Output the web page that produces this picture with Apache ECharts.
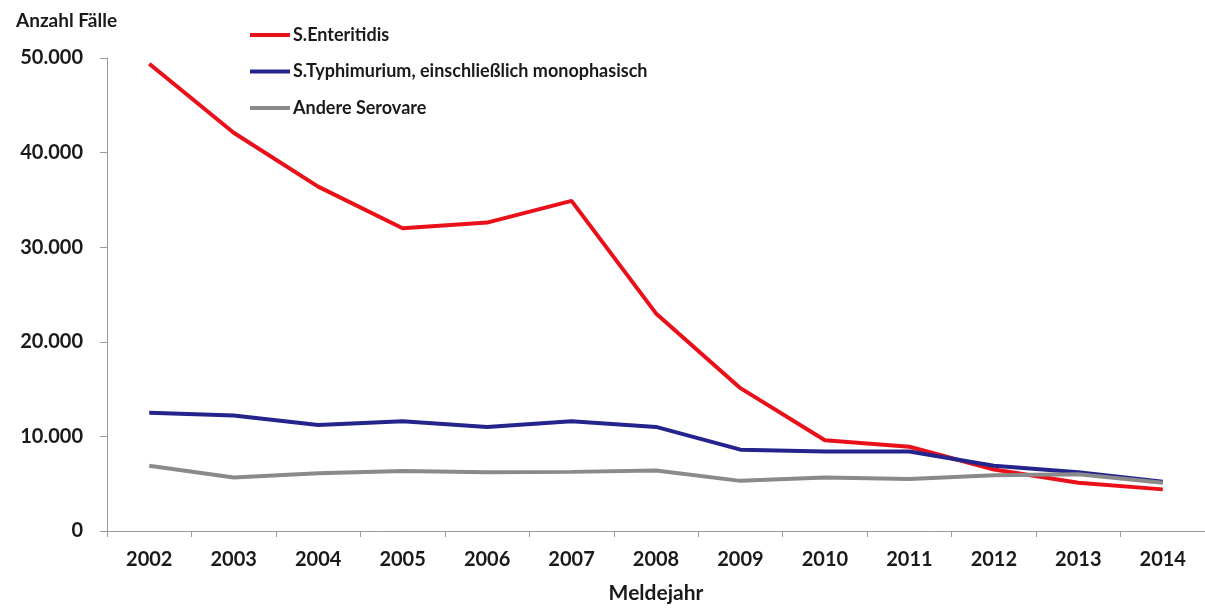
<!DOCTYPE html>
<html><head><meta charset="utf-8">
<script src="https://cdn.jsdelivr.net/npm/echarts@6/dist/echarts.min.js"></script>
<style>html,body{margin:0;padding:0;background:#fff}#c{width:1205px;height:609px}</style>
</head><body><div id="c"></div>
<script>
const years = ['2002','2003','2004','2005','2006','2007','2008','2009','2010','2011','2012','2013','2014'];
const enteritidis = [49400,42100,36400,32000,32600,34900,23000,15100,9600,8900,6500,5100,4400];
const typhimurium = [12500,12200,11200,11600,11000,11600,11000,8600,8400,8400,6900,6200,5200];
const andere = [6900,5650,6100,6350,6200,6250,6400,5300,5650,5500,5900,6000,5100];
const seriesNames = ['S.Enteritidis','S.Typhimurium, einschließlich monophasisch','Andere Serovare'];
const yTicks = [0,10000,20000,30000,40000,50000];

const font = 'Lato, "Open Sans", sans-serif';
const chart = echarts.init(document.getElementById('c'));
chart.setOption({
  animation:false,
  backgroundColor:'#fff',
  title:{text:'Anzahl Fälle',left:11,top:6,textStyle:{fontFamily:font,fontWeight:'bold',fontSize:19,color:'#1a1a1a'}},
  legend:{
    orient:'vertical',left:245,top:21,itemWidth:40,itemHeight:4,itemGap:18.5,icon:'rect',
    textStyle:{fontFamily:font,fontWeight:'bold',fontSize:18,lineHeight:18,color:'#1a1a1a',padding:[0,0,0,-2]},
    data:seriesNames
  },
  grid:{left:107,right:-11,top:58,bottom:73.5},
  xAxis:{
    type:'category',data:years,boundaryGap:true,
    axisLine:{lineStyle:{color:'#9a9a9a',width:1}},
    axisTick:{show:true,length:6,lineStyle:{color:'#9a9a9a'}},
    axisLabel:{fontFamily:font,fontWeight:'bold',fontSize:20,color:'#1a1a1a',margin:19},
    name:'Meldejahr',nameLocation:'middle',nameGap:52,
    nameTextStyle:{fontFamily:font,fontWeight:'bold',fontSize:21,color:'#1a1a1a'}
  },
  yAxis:{
    type:'value',min:0,max:50000,interval:10000,
    splitLine:{show:false},
    axisLine:{show:true,lineStyle:{color:'#9a9a9a',width:1}},
    axisTick:{show:true,length:7,lineStyle:{color:'#9a9a9a'}},
    axisLabel:{fontFamily:font,fontWeight:'bold',fontSize:20,color:'#1a1a1a',margin:24,
      formatter:v=>yTicks.includes(v)?v.toLocaleString('de-DE'):''}
  },
  series:[
    {name:seriesNames[0],type:'line',data:enteritidis,symbol:'none',z:3,lineStyle:{color:'#ea1019',width:4},itemStyle:{color:'#ea1019'}},
    {name:seriesNames[1],type:'line',data:typhimurium,symbol:'none',z:4,lineStyle:{color:'#24248c',width:4},itemStyle:{color:'#24248c'}},
    {name:seriesNames[2],type:'line',data:andere,symbol:'none',z:5,lineStyle:{color:'#8a8a8a',width:4},itemStyle:{color:'#8a8a8a'}}
  ]
});
</script></body></html>
